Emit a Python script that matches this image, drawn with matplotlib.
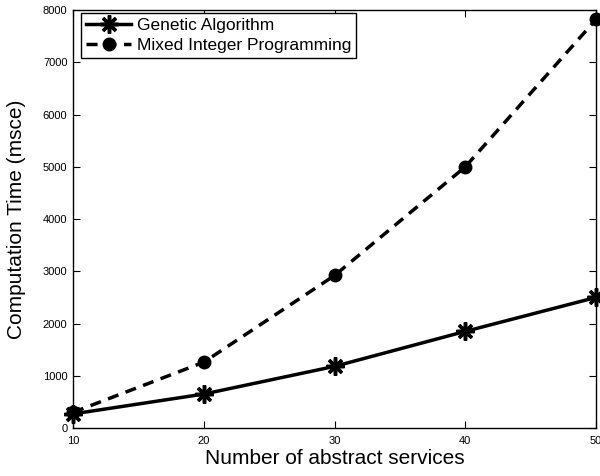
import matplotlib
matplotlib.use('Agg')
import matplotlib.pyplot as plt

# Computation time vs number of abstract services
services = [10, 20, 30, 40, 50]
ga_time = [270, 650, 1180, 1850, 2500]
mip_time = [300, 1260, 2920, 5000, 7820]

plt.rcParams['font.family'] = ['Liberation Sans', 'DejaVu Sans']

fig = plt.figure(figsize=(6, 4.76), dpi=100)
ax = fig.add_axes([0.1217, 0.1008, 0.8717, 0.878])

ax.plot(services, ga_time, color='black', linestyle='-', linewidth=2.5,
        marker=(8, 2, 0), markersize=13, markeredgewidth=2.5,
        label='Genetic Algorithm', clip_on=False)
ax.plot(services, mip_time, color='black', linestyle=(0, (3.2, 2.2)), linewidth=2.5,
        marker='o', markersize=9, label='Mixed Integer Programming', clip_on=False)

ax.set_xlim(10, 50)
ax.set_ylim(0, 8000)
ax.set_xticks(services)
ax.set_yticks(range(0, 8001, 1000))
ax.tick_params(direction='in', top=True, right=True, labelsize=8, length=5, width=0.8)
ax.xaxis.set_tick_params(pad=6)
ax.yaxis.set_tick_params(pad=4)
for sp in ax.spines.values():
    sp.set_linewidth(1.0)

ax.set_xlabel('Number of abstract services', fontsize=15, labelpad=2)
ax.set_ylabel('Computation Time (msce)', fontsize=15, labelpad=12)

leg = ax.legend(loc='upper left', bbox_to_anchor=(0.0153, 0.993), fontsize=12.5,
                fancybox=False, framealpha=1, edgecolor='black', handlelength=2.6,
                borderaxespad=0, borderpad=0.3, labelspacing=0.25, handletextpad=0.3)
leg.get_frame().set_linewidth(1.0)

fig.savefig('out.png', dpi=100)
